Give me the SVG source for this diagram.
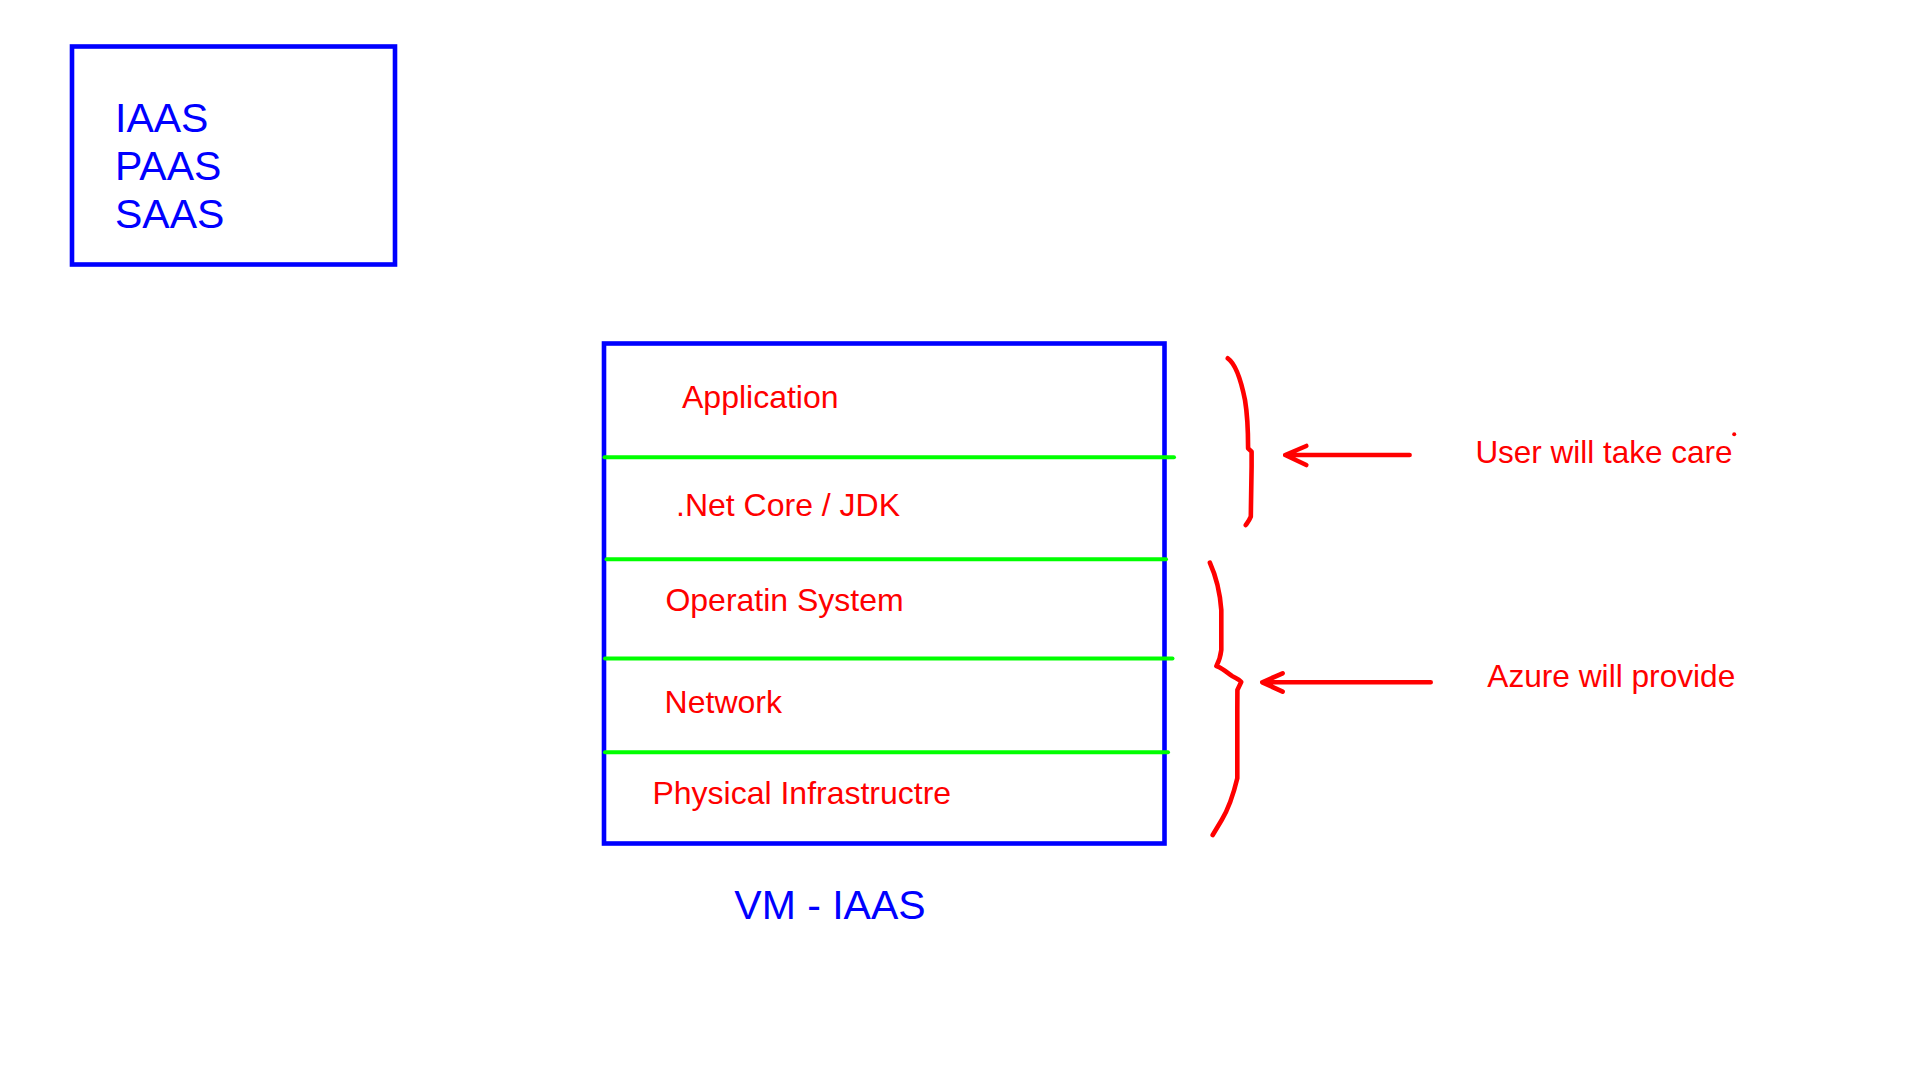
<svg xmlns="http://www.w3.org/2000/svg" width="1920" height="1080" viewBox="0 0 1920 1080">
  <style>
    .t { font-family: "Liberation Sans", Arial, sans-serif; }
    .blue { fill: #0000FF; }
    .red { fill: #FF0000; font-size: 32px; }
    .box { fill: none; stroke: #0000FF; stroke-width: 4.6; }
    .sep { stroke: #00FF00; stroke-width: 4; stroke-linecap: round; }
    .pen { fill: none; stroke: #FF0000; stroke-width: 4.6; stroke-linecap: round; stroke-linejoin: round; }
  </style>
  <rect width="1920" height="1080" fill="#FFFFFF"/>

  <g id="service-models">
    <rect class="box" x="72" y="46.5" width="323" height="218"/>
    <text class="t blue" font-size="41" x="115" y="132">IAAS</text>
    <text class="t blue" font-size="41" x="115" y="180">PAAS</text>
    <text class="t blue" font-size="41" x="115" y="228">SAAS</text>
  </g>

  <g id="vm-stack">
    <rect class="box" x="604" y="343.5" width="560.5" height="500"/>
    <line class="sep" x1="604.5" y1="457.3" x2="1174" y2="457.3"/>
    <line class="sep" x1="606.5" y1="559.3" x2="1166" y2="559.3"/>
    <line class="sep" x1="605" y1="658.5" x2="1172.5" y2="658.5"/>
    <line class="sep" x1="605" y1="752.3" x2="1168" y2="752.3"/>
  </g>
  <g id="layer-application"><text class="t red" x="682" y="407.5">Application</text></g>
  <g id="layer-runtime"><text class="t red" x="676" y="515.7">.Net Core / JDK</text></g>
  <g id="layer-os"><text class="t red" x="665.4" y="611">Operatin System</text></g>
  <g id="layer-network"><text class="t red" x="664.6" y="712.7">Network</text></g>
  <g id="layer-physical"><text class="t red" x="652.4" y="804">Physical Infrastructre</text></g>

  <g id="vm-label">
    <text class="t blue" font-size="41" x="734.3" y="918.5">VM - IAAS</text>
  </g>

  <g id="brace-user">
    <path class="pen" d="M1227.8,358.3 C1236,364 1242,385 1245,400 C1247.5,415 1248.1,430 1248.1,448.3 L1251.6,451.7 L1251.6,466.7 L1250.8,516.7 C1249.5,520 1247.5,522.5 1245.8,525"/>
  </g>
  <g id="brace-azure">
    <path class="pen" d="M1209.9,562.7 C1215,574 1220,592 1221.3,610 L1221.3,650 C1220.5,657 1218,663 1216.4,666 C1222,668 1228,673 1232,676 C1236,678 1240,680 1241.2,682 L1237.4,690 L1237.3,710 L1237.3,778.3 C1234,792 1229,808 1221.7,820 L1212.7,835"/>
  </g>

  <g id="label-user">
    <text class="t red" x="1475.4" y="462.7" textLength="257" lengthAdjust="spacingAndGlyphs">User will take care</text>
    <circle cx="1734.2" cy="434.3" r="2" fill="#FF0000"/>
  </g>
  <g id="label-azure">
    <text class="t red" x="1487.3" y="686.7" textLength="248" lengthAdjust="spacingAndGlyphs">Azure will provide</text>
  </g>

  <g id="connectors">
    <path class="pen" d="M1409.6,455 L1285.2,455 M1306.3,446 L1285.2,455 L1306.3,465"/>
    <path class="pen" d="M1430.7,682.3 L1262.3,682.3 M1282.6,673.3 L1262.3,682.3 L1282.6,691.7"/>
  </g>
</svg>
